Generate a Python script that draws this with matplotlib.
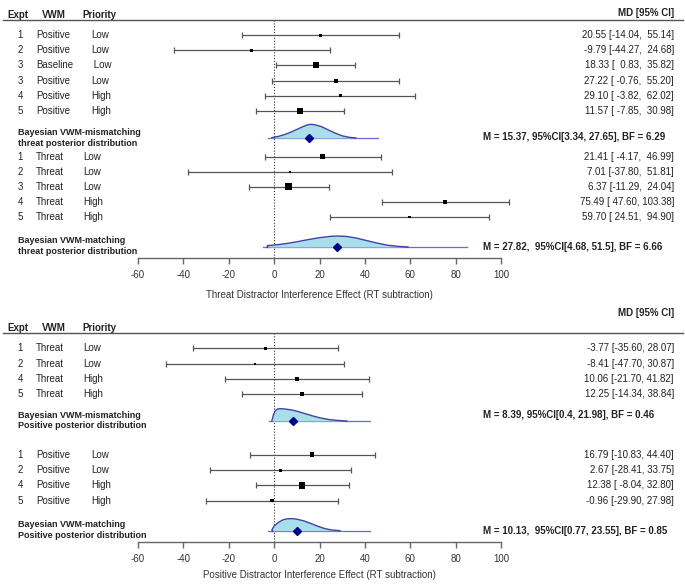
import matplotlib
matplotlib.use("Agg")
import matplotlib.pyplot as plt
import numpy as np

plt.rcParams['font.family'] = ['Liberation Sans', 'DejaVu Sans']

# ------------------------------------------------------------------ data
# Panel 1: Threat distractor interference
p1_a_expt = ['1', '2', '3', '3', '4', '5']
p1_a_vwm = ['Positive', 'Positive', 'Baseline', 'Positive', 'Positive', 'Positive']
p1_a_pri = ['Low', 'Low', ' Low', 'Low', 'High', 'High']
p1_a_md = [20.55, -9.79, 18.33, 27.22, 29.10, 11.57]
p1_a_lo = [-14.04, -44.27, 0.83, -0.76, -3.82, -7.85]
p1_a_hi = [55.14, 24.68, 35.82, 55.20, 62.02, 30.98]
p1_a_w = [3, 3, 6, 4, 3, 6]

p1_b_expt = ['1', '2', '3', '4', '5']
p1_b_vwm = ['Threat', 'Threat', 'Threat', 'Threat', 'Threat']
p1_b_pri = ['Low', 'Low', 'Low', 'High', 'High']
p1_b_md = [21.41, 7.01, 6.37, 75.49, 59.70]
p1_b_lo = [-4.17, -37.80, -11.29, 47.60, 24.51]
p1_b_hi = [46.99, 51.81, 24.04, 103.38, 94.90]
p1_b_w = [4.5, 2, 7, 4, 2.5]

# Panel 2: Positive distractor interference
p2_a_expt = ['1', '2', '4', '5']
p2_a_vwm = ['Threat', 'Threat', 'Threat', 'Threat']
p2_a_pri = ['Low', 'Low', 'High', 'High']
p2_a_md = [-3.77, -8.41, 10.06, 12.25]
p2_a_lo = [-35.60, -47.70, -21.70, -14.34]
p2_a_hi = [28.07, 30.87, 41.82, 38.84]
p2_a_w = [3, 2, 3.5, 4.5]

p2_b_expt = ['1', '2', '4', '5']
p2_b_vwm = ['Positive', 'Positive', 'Positive', 'Positive']
p2_b_pri = ['Low', 'Low', 'High', 'High']
p2_b_md = [16.79, 2.67, 12.38, -0.96]
p2_b_lo = [-10.83, -28.41, -8.04, -29.90]
p2_b_hi = [44.40, 33.75, 32.80, 27.98]
p2_b_w = [4.5, 3, 6.5, 3.5]

# Posterior summaries
post_labels = [
    ['Bayesian VWM-mismatching\nthreat posterior distribution',
     'Bayesian VWM-matching\nthreat posterior distribution'],
    ['Bayesian VWM-mismatching\nPositive posterior distribution',
     'Bayesian VWM-matching\nPositive posterior distribution'],
]
post_mean = [[15.37, 27.82], [8.39, 10.13]]
post_ci_lo = [[3.34, 4.68], [0.4, 0.77]]
post_ci_hi = [[27.65, 51.5], [21.98, 23.55]]
post_bf = [[6.29, 6.66], [0.46, 0.85]]
post_sep = [[', ', ',  '], [', ', ',  ']]

# Posterior density shapes
dens_x = [
    [[-1, 2, 5, 8, 11, 14, 16, 18, 21, 24, 27, 30, 33, 36],
     [-3, 0, 5, 10, 15, 20, 25, 28, 32, 36, 40, 45, 50, 55, 59]],
    [[-1, -0.3, 0.5, 1.5, 3, 5, 8, 11, 14, 17, 20, 24, 28, 32],
     [-1, 0, 2, 4, 6, 8, 10, 13, 16, 19, 22, 25, 29]],
]
dens_h = [
    [[0.02, 0.12, 0.27, 0.47, 0.7, 0.92, 1.0, 0.97, 0.82, 0.58, 0.35, 0.16, 0.05, 0.0],
     [0.1, 0.14, 0.24, 0.38, 0.54, 0.68, 0.78, 0.8, 0.77, 0.66, 0.5, 0.3, 0.13, 0.04, 0.0]],
    [[0.0, 0.45, 0.75, 0.88, 0.9, 0.87, 0.8, 0.67, 0.52, 0.37, 0.24, 0.11, 0.04, 0.0],
     [0.05, 0.35, 0.62, 0.8, 0.87, 0.88, 0.84, 0.72, 0.54, 0.34, 0.17, 0.06, 0.0]],
]
dens_support = [[(-2.6, 45.9), (-4.9, 85.0)], [(-2.2, 42.3), (-2.6, 42.3)]]

xlabels = ['Threat Distractor Interference Effect (RT subtraction)',
           'Positive Distractor Interference Effect (RT subtraction)']
ticks = [-60, -40, -20, 0, 20, 40, 60, 80, 100]
header_cols = ['Expt', 'VWM', 'Priority']
header_ci = 'MD [95% CI]'

# ------------------------------------------------------------------ layout
W, H, DPI = 685, 586, 100
fig = plt.figure(figsize=(W / DPI, H / DPI), dpi=DPI)

PX_L, PX_R = 3, 683           # axes horizontal extent (pixels)
PX_M60, PX_100 = 138, 501     # pixel positions of -60 and 100
k = (PX_100 - PX_M60) / 160.0
XL = -60 - (PX_M60 - PX_L) / k
XR = 100 + (PX_R - PX_100) / k

panels = [
    dict(top=20, bottom=258, hdr_y=14.7, md_y=12.7,
         a=(p1_a_expt, p1_a_vwm, p1_a_pri, p1_a_md, p1_a_lo, p1_a_hi, p1_a_w),
         b=(p1_b_expt, p1_b_vwm, p1_b_pri, p1_b_md, p1_b_lo, p1_b_hi, p1_b_w),
         a_y0=35.0, a_dy=15.2, b_y0=156.7, b_dy=15.1,
         d_y=[138.0, 247.0], lab_y=[138.3, 246.3], sum_y=[136.5, 247.5],
         pri_x=[91, 83], xlab_y=295),
    dict(top=333, bottom=542, hdr_y=327.7, md_y=313.3,
         a=(p2_a_expt, p2_a_vwm, p2_a_pri, p2_a_md, p2_a_lo, p2_a_hi, p2_a_w),
         b=(p2_b_expt, p2_b_vwm, p2_b_pri, p2_b_md, p2_b_lo, p2_b_hi, p2_b_w),
         a_y0=348.3, a_dy=15.25, b_y0=454.7, b_dy=15.3,
         d_y=[421.0, 530.7], lab_y=[420.5, 529.7], sum_y=[414.5, 531.0],
         pri_x=[83, 91], xlab_y=575),
]

TXT = '#222222'
FS = 7.0


def axfrac(px):
    return (px - PX_L) / (PX_R - PX_L)


def fmt_col(vals):
    s = ['%.2f' % v for v in vals]
    w = max(len(x) for x in s)
    return [x.rjust(w) for x in s]


for pi, P in enumerate(panels):
    ax = fig.add_axes([PX_L / W, (H - P['bottom']) / H,
                       (PX_R - PX_L) / W, (P['bottom'] - P['top']) / H])
    ax.set_xlim(XL, XR)
    ax.set_ylim(P['bottom'], P['top'])
    ax.patch.set_visible(False)
    for s in ['left', 'right']:
        ax.spines[s].set_visible(False)
    ax.spines['top'].set_color('#555555')
    ax.spines['top'].set_linewidth(1.0)
    ax.spines['bottom'].set_color('#666666')
    ax.spines['bottom'].set_linewidth(1.0)
    ax.spines['bottom'].set_bounds(-60, 100)
    ax.set_yticks([])
    ax.set_xticks(ticks)
    ax.set_xticklabels([str(t) for t in ticks])
    ax.tick_params(axis='x', length=4, width=1.0, color='#666666',
                   labelsize=FS, labelcolor='#333333', pad=5)
    tr = ax.get_yaxis_transform()

    ax.axvline(0, color='#333333', lw=0.8, ls=(0, (1, 1.6)), zorder=1)

    # headers
    for x_px, t in zip([7, 42, 82], header_cols):
        ax.text(axfrac(x_px), P['hdr_y'], t, transform=tr, ha='left', va='center',
                fontsize=FS, fontweight='bold', color=TXT)
    ax.text(axfrac(674), P['md_y'], header_ci, transform=tr, ha='right', va='center',
            fontsize=FS, fontweight='bold', color=TXT)

    # study groups
    all_lo = list(P['a'][4]) + list(P['b'][4])
    all_hi = list(P['a'][5]) + list(P['b'][5])
    lo_s_all = fmt_col(all_lo)
    hi_s_all = fmt_col(all_hi)
    na = len(P['a'][0])
    for gi, (key, y0, dy) in enumerate([('a', P['a_y0'], P['a_dy']),
                                         ('b', P['b_y0'], P['b_dy'])]):
        expt, vwm, pri, md, lo, hi, w = P[key]
        md = np.array(md); lo = np.array(lo); hi = np.array(hi)
        ys = y0 + dy * np.arange(len(md))
        ax.errorbar(md, ys, xerr=[md - lo, hi - md], fmt='none', ecolor='#555555',
                    elinewidth=0.9, capsize=2.0, capthick=0.9, zorder=2)
        ax.scatter(md, ys, marker='s', s=(np.array(w) * 0.72) ** 2,
                   color='black', linewidths=0, zorder=3)
        off = 0 if gi == 0 else na
        for i, y in enumerate(ys):
            ax.text(axfrac(20), y, expt[i], transform=tr, ha='center', va='center',
                    fontsize=FS, color=TXT)
            ax.text(axfrac(36), y, vwm[i], transform=tr, ha='left', va='center',
                    fontsize=FS, color=TXT)
            ax.text(axfrac(P['pri_x'][gi]), y, pri[i], transform=tr, ha='left',
                    va='center', fontsize=FS, color=TXT)
            s = '%.2f [%s, %s]' % (md[i], lo_s_all[off + i], hi_s_all[off + i])
            ax.text(axfrac(674), y, s, transform=tr, ha='right', va='center',
                    fontsize=FS, color=TXT)

    # posterior distributions
    for di in range(2):
        yb = P['d_y'][di]
        sx = np.array(dens_x[pi][di], dtype=float)
        sh = np.array(dens_h[pi][di], dtype=float) * 13.7
        a0, a1 = dens_support[pi][di]
        ax.plot([a0, a1], [yb, yb], color='#6a6ad0', lw=0.9, zorder=2)
        ax.fill_between(sx, yb, yb - sh, color='#a9dfea', lw=0, zorder=2)
        ax.plot(sx, yb - sh, color='#4040a8', lw=1.0, zorder=3)
        ax.plot([sx[0], sx[0]], [yb, yb - sh[0]], color='#4040a8', lw=1.0, zorder=3)
        ax.plot([post_mean[pi][di]], [yb], marker='D', ms=3.6, color='#00008b',
                mec='#00008b', zorder=4)
        ax.text(axfrac(18), P['lab_y'][di], post_labels[pi][di], transform=tr,
                ha='left', va='center', fontsize=6.5, fontweight='bold',
                color=TXT, linespacing=1.25)
        summ = 'M = %s%s95%%CI[%s, %s], BF = %s' % (
            post_mean[pi][di], post_sep[pi][di], post_ci_lo[pi][di],
            post_ci_hi[pi][di], post_bf[pi][di])
        ax.text(axfrac(483), P['sum_y'][di], summ, transform=tr, ha='left',
                va='center', fontsize=FS, fontweight='bold', color=TXT)

    ax.text(20, P['xlab_y'], xlabels[pi], ha='center', va='center',
            fontsize=FS, color='#333333')

fig.savefig('out.png', dpi=DPI)
